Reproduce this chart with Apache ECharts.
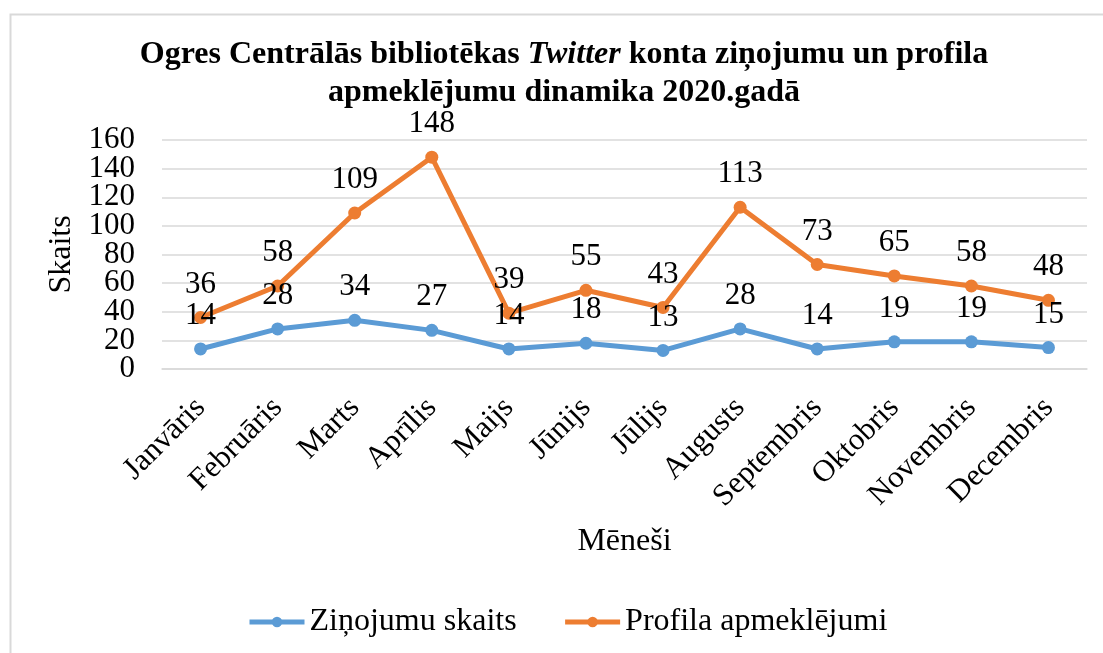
<!DOCTYPE html>
<html>
<head>
<meta charset="utf-8">
<script src="https://cdn.jsdelivr.net/npm/echarts@6/dist/echarts.min.js"></script>
<style>
html,body{margin:0;padding:0;background:#fff;}
#chart{width:1103px;height:653px;}
</style>
</head>
<body>
<div id="chart"></div>
<script>
const months = ['Janvāris','Februāris','Marts','Aprīlis','Maijs','Jūnijs','Jūlijs','Augusts','Septembris','Oktobris','Novembris','Decembris'];
const zinojumi = [14,28,34,27,14,18,13,28,14,19,19,15];
const apmeklejumi = [36,58,109,148,39,55,43,113,73,65,58,48];
const yTicks = {min:0, max:160, interval:20};

const FONT = '"Liberation Serif", "Times New Roman", serif';
const isEdge = v => v === yTicks.min || v === yTicks.max;
const chart = echarts.init(document.getElementById('chart'), null, {renderer:'canvas'});
chart.setOption({
  backgroundColor:'#ffffff',
  animation:false,
  graphic:[{type:'rect', left:8, top:12, shape:{width:1200, height:800}, style:{fill:'none', stroke:'#d9d9d9', lineWidth:2}, silent:true, z:-1}],
  title:{
    text:'{b|Ogres Centrālās bibliotēkas }{i|Twitter}{b| konta ziņojumu un profila}\n{b|apmeklējumu dinamika 2020.gadā}',
    left:559, textAlign:'center', top:31,
    textStyle:{
      fontFamily:FONT, fontWeight:'bold', fontSize:32,
      rich:{
        b:{fontFamily:FONT, fontWeight:'bold', fontSize:32, color:'#000', lineHeight:38},
        i:{fontFamily:FONT, fontWeight:'bold', fontStyle:'italic', fontSize:32, color:'#000', lineHeight:38}
      }
    }
  },
  legend:{
    bottom:10, left:242, itemWidth:55, itemHeight:13, itemGap:46,
    textStyle:{fontFamily:FONT, fontSize:32, color:'#000'},
    lineStyle:{width:5},
    data:['Ziņojumu skaits','Profila apmeklējumi']
  },
  grid:{left:162, right:16, top:140, bottom:284},
  xAxis:{
    type:'category', data:months, boundaryGap:true,
    name:'Mēneši', nameLocation:'middle', nameGap:157,
    nameTextStyle:{fontFamily:FONT, fontSize:32, color:'#000'},
    axisLine:{lineStyle:{color:'#d9d9d9', width:1.5}},
    axisTick:{show:false},
    axisLabel:{rotate:45, margin:34, fontFamily:FONT, fontSize:31, color:'#000', interval:0}
  },
  yAxis:[
    {
      type:'value', min:yTicks.min, max:yTicks.max, interval:yTicks.interval, position:'left',
      name:'Skaits', nameLocation:'middle', nameGap:78, nameRotate:90,
      nameTextStyle:{fontFamily:FONT, fontSize:32, color:'#000'},
      axisLine:{show:false}, axisTick:{show:false},
      axisLabel:{margin:27, fontFamily:FONT, fontSize:31, color:'#000', showMinLabel:true, showMaxLabel:true,
        formatter:function(v){ return isEdge(v) ? '' : String(v); }},
      splitLine:{lineStyle:{color:'#d9d9d9', width:1.5}}
    },
    {
      type:'value', min:yTicks.min, max:yTicks.max, interval:yTicks.interval, position:'left', offset:0,
      axisLine:{show:false}, axisTick:{show:false}, splitLine:{show:false},
      axisLabel:{margin:27, fontFamily:FONT, fontSize:31, color:'#000', showMinLabel:true, showMaxLabel:true,
        formatter:function(v){ return isEdge(v) ? String(v) : ''; }}
    }
  ],
  series:[
    {
      name:'Ziņojumu skaits', type:'line', data:zinojumi, yAxisIndex:0,
      symbol:'circle', symbolSize:13,
      itemStyle:{color:'#5B9BD5'}, lineStyle:{color:'#5B9BD5', width:5},
      label:{show:true, position:'top', distance:11, fontFamily:FONT, fontSize:31, color:'#000'},
      z:3
    },
    {
      name:'Profila apmeklējumi', type:'line', data:apmeklejumi, yAxisIndex:0,
      symbol:'circle', symbolSize:13,
      itemStyle:{color:'#ED7D31'}, lineStyle:{color:'#ED7D31', width:5},
      label:{show:true, position:'top', distance:11, fontFamily:FONT, fontSize:31, color:'#000'},
      z:2
    }
  ]
});
</script>
</body>
</html>
